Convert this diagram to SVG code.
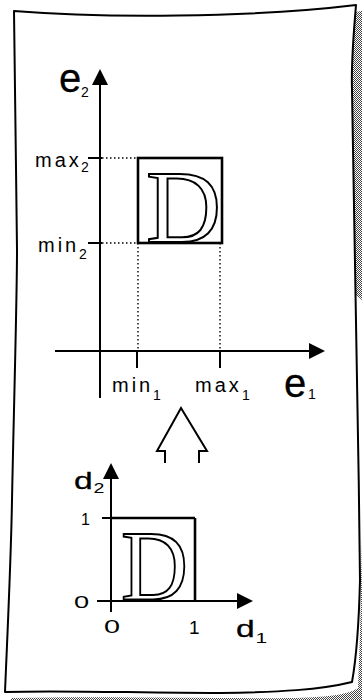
<svg xmlns="http://www.w3.org/2000/svg" width="362" height="700" viewBox="0 0 362 700">
  <defs>
    <pattern id="dots" width="2" height="2" patternUnits="userSpaceOnUse">
      <rect width="2" height="2" fill="#fff"/>
      <rect x="0" y="0" width="1" height="1" fill="#444"/>
      <rect x="1" y="1" width="1" height="1" fill="#444"/>
    </pattern>
    <marker id="head" viewBox="0 0 16 16" markerWidth="16" markerHeight="16" refX="0" refY="8" orient="auto" markerUnits="userSpaceOnUse">
      <path d="M0,0 L16,8 L0,16 z" fill="#000"/>
    </marker>
  </defs>
  <style>
    .edge { fill: #fff; stroke: #000; stroke-width: 2; stroke-linejoin: round; }
    .axis { stroke: #000; stroke-width: 2; fill: none; marker-end: url(#head); }
    .tick { stroke: #000; stroke-width: 2; fill: none; }
    .dot { stroke: #000; stroke-width: 1.4; stroke-dasharray: 1.5 2.5; fill: none; }
    .box { fill: none; stroke: #000; stroke-width: 2.6; }
    .glyph { font-family: "Liberation Serif", serif; fill: #fff; stroke: #000; stroke-width: 2; }
    .lbl { font-family: "Liberation Sans", Arial, sans-serif; fill: #000; }
    .big { font-size: 40px; stroke: #000; stroke-width: 0.3; }
    .mid { font-size: 20px; letter-spacing: 3px; }
    .sub { font-size: 14px; letter-spacing: 0; stroke-width: 0; }
    .hollow { fill: none; stroke: #000; stroke-width: 2; stroke-linejoin: miter; }
  </style>
  <rect width="362" height="700" fill="#fff"/>
  <g id="paper">
    <path d="M20,17 C106,24 256,24 362,11 L362,700 L11,700 L11,698 C110,696 220,699 296,698 C330,697 350,694 358,688 C362,600 364,450 362,300 Z" fill="url(#dots)"/>
    <path class="edge" d="M14,11 C100,18 250,18 356,5 C354,30 351,60 352,90 C354,200 358,400 360,580 C359,620 356,660 352,682 C320,690 280,692 220,693 C140,693 60,690 5,692 C8,620 11,560 12,500 C14,400 17,300 17,250 C16,170 15,80 14,11 Z"/>
  </g>
  <g id="connectors">
    <line class="axis" x1="100" y1="398" x2="100" y2="85"/>
    <line class="axis" x1="55" y1="351" x2="309" y2="351"/>
    <line class="tick" x1="88" y1="158" x2="102" y2="158"/>
    <line class="tick" x1="88" y1="243" x2="102" y2="243"/>
    <line class="tick" x1="137" y1="351" x2="137" y2="368"/>
    <line class="tick" x1="220" y1="351" x2="220" y2="368"/>
    <line class="dot" x1="102" y1="158" x2="138" y2="158"/>
    <line class="dot" x1="102" y1="243" x2="138" y2="243"/>
    <line class="dot" x1="138" y1="243" x2="138" y2="351"/>
    <line class="dot" x1="220" y1="243" x2="220" y2="351"/>
    <line class="axis" x1="111" y1="612" x2="111" y2="479"/>
    <line class="axis" x1="97" y1="601" x2="237" y2="601"/>
    <line class="tick" x1="102" y1="518" x2="111" y2="518"/>
  </g>
  <g id="upper-region">
    <rect class="box" x="138" y="158" width="84" height="85"/>
    <text class="glyph" x="146" y="242" font-size="104">D</text>
  </g>
  <g id="upper-labels">
    <text class="lbl big" x="59" y="92">e<tspan class="sub" x="81" y="97" font-size="15">2</tspan></text>
    <text class="lbl mid" x="35" y="167">max<tspan class="sub" x="81" y="172">2</tspan></text>
    <text class="lbl mid" x="38" y="252">min<tspan class="sub" x="79" y="259">2</tspan></text>
    <text class="lbl mid" x="112" y="392">min<tspan class="sub" x="153" y="400">1</tspan></text>
    <text class="lbl mid" x="195" y="392">max<tspan class="sub" x="242" y="400">1</tspan></text>
    <text class="lbl big" x="284" y="397">e<tspan class="sub" x="308" y="399" font-size="16">1</tspan></text>
  </g>
  <g id="transform-arrow">
    <polyline class="hollow" points="165,463 165,451 157,451 181,408 207,451 199,451 199,463"/>
  </g>
  <g id="lower-region">
    <line class="box" x1="111" y1="518" x2="195" y2="518"/>
    <line class="box" x1="195" y1="518" x2="195" y2="602"/>
    <text class="glyph" x="121" y="599" font-size="100" textLength="67" lengthAdjust="spacingAndGlyphs">D</text>
  </g>
  <g id="lower-labels">
    <text class="lbl" transform="translate(74,489) scale(1.4,1)" font-size="24" stroke="#000" stroke-width="0.3">d<tspan x="14" y="4" font-size="14" stroke-width="0">2</tspan></text>
    <text class="lbl" x="81" y="525" font-size="16">1</text>
    <text class="lbl" transform="translate(74,608) scale(1.6,1)" font-size="17">0</text>
    <text class="lbl" transform="translate(104,633) scale(1.6,1)" font-size="18">0</text>
    <text class="lbl" x="189" y="634" font-size="19">1</text>
    <text class="lbl" transform="translate(236,637) scale(1.4,1)" font-size="24" stroke="#000" stroke-width="0.3">d<tspan x="14" y="6" font-size="15" stroke-width="0">1</tspan></text>
  </g>
</svg>
